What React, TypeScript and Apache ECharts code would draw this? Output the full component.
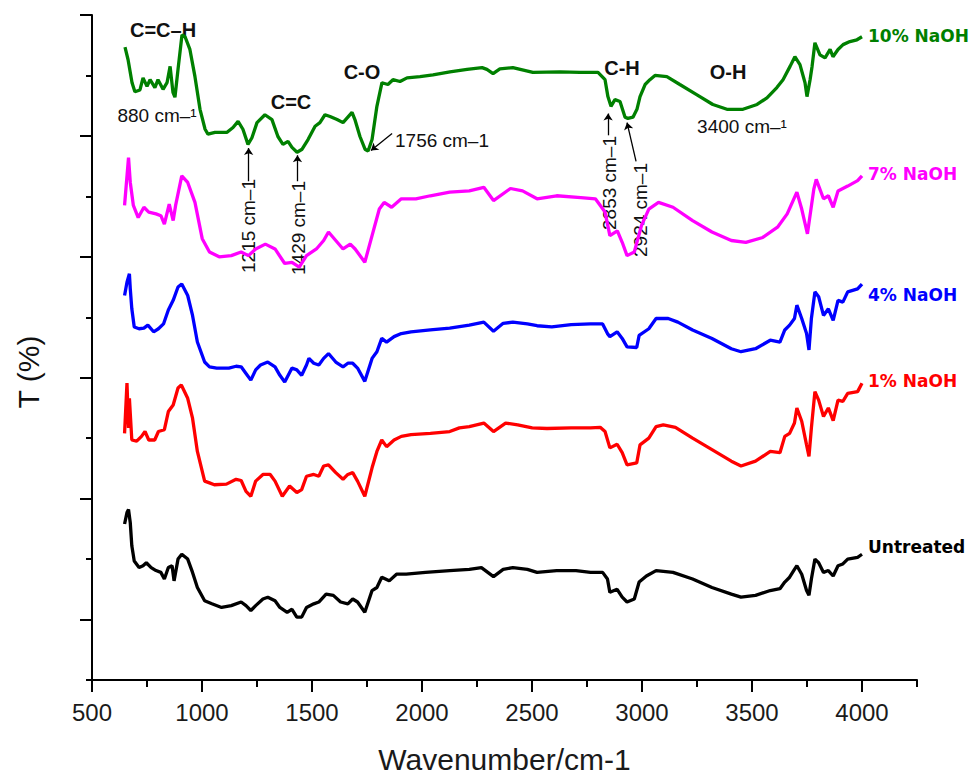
import React, { useEffect, useRef } from "react";
import * as echarts from "echarts";

// ---- data (wavenumber cm-1, transmittance in arbitrary offset units) ----
const wn10 = [650,664,682,695,718,732,750,764,786,800,823,841,855,868,877,891,909,923,945,968,991,1014,1027,1059,1114,1141,1164,1186,1209,1227,1250,1286,1318,1345,1368,1391,1409,1432,1455,1482,1514,1536,1559,1582,1614,1641,1682,1695,1718,1741,1755,1773,1795,1818,1845,1868,1900,1932,1991,2050,2127,2205,2273,2295,2323,2354,2413,2504,2627,2718,2800,2832,2845,2859,2877,2900,2923,2936,2959,2977,2991,3014,3036,3059,3113,3172,3250,3322,3386,3459,3523,3568,3613,3641,3673,3695,3718,3741,3750,3764,3773,3786,3809,3832,3855,3868,3891,3914,3945,3977,4000];
const t10 = [104.7,102.6,98.8,97.3,97.6,99.6,98.2,99.3,98.0,99.3,97.7,98.8,101.5,97.2,96.4,101.0,106.7,106.4,104.3,99.8,94.4,91.1,90.3,90.6,90.6,91.4,92.4,91.1,88.6,89.7,92.2,93.5,92.7,89.9,88.6,89.1,88.1,87.3,87.8,89.4,91.6,92.2,93.5,93.2,92.7,92.2,93.9,92.7,89.9,87.8,87.5,89.4,94.9,98.8,98.5,99.3,99.0,99.6,99.8,100.1,100.6,101.0,101.3,101.0,100.3,101.1,101.3,100.5,100.6,100.5,100.5,99.3,96.5,94.9,96.0,95.7,93.1,92.9,93.1,94.4,96.5,98.5,99.3,100.0,99.8,98.5,96.8,95.2,94.4,94.4,95.2,96.3,98.0,99.3,101.5,103.1,101.8,98.8,96.5,99.3,101.5,105.4,103.4,102.9,104.3,103.1,104.3,105.1,105.6,105.9,106.4];

const wn7 = [648,666,674,688,710,736,758,791,813,829,851,869,880,908,935,968,1001,1034,1078,1133,1178,1211,1244,1288,1332,1376,1409,1442,1475,1520,1553,1575,1608,1641,1674,1696,1740,1773,1806,1828,1862,1906,1972,2038,2126,2215,2281,2325,2402,2457,2523,2612,2722,2788,2832,2854,2888,2910,2932,2965,2998,3031,3075,3141,3230,3318,3406,3472,3549,3616,3660,3704,3726,3752,3781,3792,3825,3847,3869,3891,3935,3980,4000];
const t7 = [78.5,86.4,82.3,78.5,76.5,78.2,77.4,77.1,76.8,75.4,78.7,76.0,78.5,83.4,82.3,79.0,73.0,70.8,70.0,70.2,70.8,70.2,71.3,72.1,71.3,68.9,69.1,68.3,70.2,71.3,72.7,74.1,72.7,71.3,72.1,71.3,69.1,73.5,77.9,79.0,78.2,79.6,79.6,80.1,80.7,80.9,81.5,79.3,81.3,80.9,79.6,80.1,79.8,79.6,77.4,73.5,74.3,72.4,70.2,70.8,75.2,77.9,79.0,78.2,76.0,74.1,72.7,72.4,73.2,74.9,77.1,80.7,77.9,73.8,81.2,82.8,79.6,80.1,78.2,80.9,81.7,82.6,83.4];

const wn4 = [648,659,670,674,681,692,714,736,754,780,802,825,847,869,891,908,935,957,979,1012,1034,1067,1122,1155,1178,1200,1222,1244,1266,1299,1332,1354,1376,1409,1431,1453,1475,1486,1508,1531,1553,1575,1608,1641,1663,1685,1707,1740,1773,1795,1817,1839,1873,1906,1950,2038,2126,2215,2281,2325,2369,2413,2479,2523,2590,2678,2766,2821,2843,2854,2887,2910,2932,2976,2987,3031,3064,3119,3163,3230,3318,3406,3450,3516,3583,3627,3649,3671,3693,3704,3726,3748,3759,3770,3786,3803,3825,3847,3869,3891,3913,3935,3980,4000];
const t4 = [63.6,65.8,67.2,64.7,61.4,58.4,58.1,58.2,58.7,57.6,58.1,58.9,61.2,62.8,65.0,65.5,63.6,60.3,55.9,52.6,51.8,51.6,51.6,51.9,51.8,50.7,49.6,51.3,52.1,52.6,51.8,50.4,49.3,51.6,51.3,50.4,52.1,53.2,52.4,52.1,53.2,54.0,52.6,51.8,52.4,52.4,51.6,49.4,53.2,54.3,56.5,55.9,56.8,57.3,57.6,57.9,58.2,58.7,59.2,57.7,59.0,59.2,58.9,58.6,58.4,58.8,58.9,58.9,57.3,56.8,57.6,56.5,55.1,55.0,57.0,58.1,59.8,59.8,59.2,57.9,56.5,54.8,54.3,54.8,56.2,55.9,57.9,58.7,59.8,62.0,59.8,57.3,54.6,59.8,64.2,63.4,60.3,61.4,59.5,62.8,62.5,64.2,64.7,65.5];

const wn1 = [648,659,666,670,681,703,725,741,758,785,802,829,847,869,891,906,935,957,979,1012,1034,1056,1111,1155,1178,1200,1222,1244,1277,1310,1332,1365,1398,1431,1453,1475,1508,1531,1553,1575,1608,1641,1663,1685,1707,1740,1773,1795,1817,1839,1873,1906,1950,2038,2126,2170,2215,2281,2325,2380,2435,2501,2568,2678,2766,2810,2832,2854,2887,2910,2932,2976,2991,3031,3064,3097,3152,3230,3318,3406,3450,3516,3583,3627,3649,3671,3693,3704,3726,3748,3759,3770,3786,3803,3825,3847,3869,3891,3913,3935,3980,4000];
const t1 = [40.8,49.1,41.7,46.6,39.7,39.5,40.3,41.1,39.7,39.7,41.1,41.4,44.4,45.5,48.3,48.8,46.6,43.3,37.8,32.9,32.6,32.3,32.4,33.2,33.0,31.2,30.4,32.9,34.0,34.0,32.9,30.4,32.1,31.0,31.5,33.7,34.0,33.7,35.4,35.6,34.3,33.2,34.0,34.3,32.9,30.4,35.1,37.8,39.7,38.6,39.7,40.3,40.6,40.8,41.1,41.7,41.9,42.5,41.1,42.5,42.2,41.7,41.6,41.7,41.7,41.8,41.1,38.4,39.0,37.6,35.6,35.9,38.9,40.0,41.9,42.2,41.8,40.0,38.1,36.2,35.4,36.2,37.8,37.6,40.3,40.8,42.5,45.0,42.8,38.9,37.0,41.7,47.7,46.3,43.6,45.0,42.9,46.3,46.1,47.4,47.7,49.1];

const wn0 = [648,659,666,674,681,692,714,732,747,769,791,813,829,847,864,873,891,908,935,957,979,1012,1045,1089,1133,1178,1200,1222,1244,1277,1299,1332,1354,1387,1409,1431,1453,1475,1508,1531,1564,1597,1630,1663,1685,1707,1740,1773,1795,1817,1851,1884,1928,2016,2126,2215,2270,2325,2369,2413,2479,2523,2612,2700,2766,2821,2843,2854,2887,2910,2932,2965,2987,3020,3064,3141,3230,3318,3406,3450,3516,3583,3627,3649,3671,3693,3704,3726,3748,3759,3770,3786,3803,3825,3847,3869,3891,3913,3935,3980,4000];
const t0 = [25.8,27.7,28.2,26.0,22.2,19.7,18.6,18.9,19.4,18.6,18.1,17.8,16.7,18.6,18.9,16.4,20.0,20.8,20.0,17.8,15.3,13.1,12.6,12.0,12.3,12.9,12.3,11.5,12.3,13.4,13.7,13.1,12.0,11.2,11.7,10.4,10.4,12.0,12.6,12.9,14.2,14.0,12.9,12.6,13.4,12.9,11.2,14.8,15.3,17.0,16.4,17.5,17.5,17.8,18.1,18.3,18.6,17.1,18.3,18.6,18.3,17.8,18.1,18.1,17.8,17.8,16.7,14.5,15.0,13.7,12.9,13.4,16.2,17.2,18.1,17.8,16.7,15.3,14.2,13.7,14.0,14.8,15.1,16.2,17.0,18.3,18.9,17.5,14.8,14.0,16.7,20.0,19.4,17.8,18.1,17.2,18.9,19.2,20.0,20.3,20.8];

const seriesNames = ["10% NaOH", "7% NaOH", "4% NaOH", "1% NaOH", "Untreated"];
const xMajorTicks = [500, 1000, 1500, 2000, 2500, 3000, 3500, 4000];
const xMinorTicks = [750, 1250, 1750, 2250, 2750, 3250, 3750, 4250];
const yMajorTicks = [10, 30, 50, 70, 90, 110];
const yMinorTicks = [0, 20, 40, 60, 80, 100];

// arrows: [from, to] in data coordinates
const arrows = [
  [[1212, 82.5], [1212, 88.0]],
  [[1434, 82.5], [1434, 86.8]],
  [[1864, 90.4], [1768, 87.6]],
  [[2846, 90.1], [2846, 93.7]],
  [[2973, 85.8], [2932, 92.2]],
];

const SANS = "'Liberation Sans', Arial, sans-serif";

function zip(w: number[], t: number[]) {
  return w.map((x, i) => [x, t[i]]);
}

export default function App() {
  const ref = useRef<HTMLDivElement>(null);
  useEffect(() => {
    document.body.style.margin = "0";
    if (!ref.current) return;
    const chart = echarts.init(ref.current, undefined, { renderer: "svg" });
    const colors = ["#008000", "#ff00ff", "#0000ff", "#ff0000", "#000000"];
    const datas = [zip(wn10, t10), zip(wn7, t7), zip(wn4, t4), zip(wn1, t1), zip(wn0, t0)];
    const offsets = [[0, -1], [0, -2], [0, 11], [0, -2], [0, -7]];
    const axisLine = { show: true, lineStyle: { color: "#000", width: 2 } };
    const tickStyle = { color: "#000", width: 2 };

    const series: any[] = datas.map((d, i) => ({
      type: "line",
      name: seriesNames[i],
      data: d,
      showSymbol: false,
      symbol: "none",
      lineStyle: { color: colors[i], width: 3.3 },
      itemStyle: { color: colors[i] },
      clip: false,
      endLabel: {
        show: true,
        formatter: seriesNames[i],
        color: colors[i],
        fontSize: 17,
        fontWeight: "bold",
        fontFamily: "'DejaVu Sans', sans-serif",
        distance: 6,
        offset: offsets[i],
      },
      ...(i === 0
        ? {
            markLine: {
              silent: true,
              symbol: ["none", "arrow"],
              symbolSize: 7,
              label: { show: false },
              lineStyle: { color: "#000", width: 1.3, type: "solid" },
              data: arrows.map((a) => [{ coord: a[0] }, { coord: a[1] }]),
            },
          }
        : {}),
    }));

    const txt = (text: string, x: number, y: number, bold: boolean, size: number, extra: any = {}) => ({
      type: "text",
      x,
      y,
      rotation: extra.rotation || 0,
      style: {
        text,
        fontSize: size,
        fontWeight: bold ? "bold" : "normal",
        fontFamily: SANS,
        fill: "#111",
        align: extra.align || "center",
        verticalAlign: "middle",
      },
    });

    const option: any = {
      animation: false,
      grid: { left: 92, right: 55, top: 15, bottom: 96 },
      xAxis: [
        {
          type: "value",
          min: 500,
          max: 4250,
          interval: 500,
          axisLine,
          axisTick: { show: true, length: 12, lineStyle: tickStyle, customValues: xMajorTicks },
          axisLabel: {
            customValues: xMajorTicks,
            formatter: (v: number) => String(v),
            fontSize: 24,
            color: "#1a1a1a",
            fontFamily: SANS,
            margin: 20,
          },
          splitLine: { show: false },
          name: "Wavenumber/cm-1",
          nameLocation: "middle",
          nameGap: 64,
          nameTextStyle: { fontSize: 30, color: "#1a1a1a", fontFamily: SANS },
        },
        {
          type: "value",
          min: 500,
          max: 4250,
          position: "bottom",
          axisLine: { show: false },
          axisTick: { show: true, length: 7, lineStyle: tickStyle, customValues: xMinorTicks },
          axisLabel: { show: false },
          splitLine: { show: false },
        },
      ],
      yAxis: [
        {
          type: "value",
          min: 0,
          max: 110,
          axisLine,
          axisTick: { show: true, length: 12, lineStyle: tickStyle, customValues: yMajorTicks },
          axisLabel: { show: false },
          splitLine: { show: false },
        },
        {
          type: "value",
          min: 0,
          max: 110,
          position: "left",
          axisLine: { show: false },
          axisTick: { show: true, length: 6, lineStyle: tickStyle, customValues: yMinorTicks },
          axisLabel: { show: false },
          splitLine: { show: false },
        },
      ],
      series,
      graphic: [
        txt("T (%)", 28, 372, false, 30, { rotation: Math.PI / 2 }),
        txt("C=C\u2013H", 163, 30, true, 20),
        txt("880 cm\u2013\u00b9", 157, 115, false, 19),
        txt("C=C", 291, 102, true, 20),
        txt("C-O", 362, 72, true, 20),
        txt("1756 cm\u20131", 395, 140, false, 19, { align: "left" }),
        txt("C-H", 622, 68, true, 20),
        txt("O-H", 728, 72, true, 20),
        txt("3400 cm\u2013\u00b9", 742, 126, false, 19),
        txt("1215 cm\u20131", 248, 226, false, 19, { rotation: Math.PI / 2 }),
        txt("1429 cm\u20131", 298, 228, false, 19, { rotation: Math.PI / 2 }),
        txt("2853 cm\u20131", 609, 183, false, 19, { rotation: Math.PI / 2 }),
        txt("2924 cm\u20131", 640, 210, false, 19, { rotation: Math.PI / 2 }),
      ],
    };
    chart.setOption(option);
    return () => chart.dispose();
  }, []);
  return <div ref={ref} style={{ width: 972, height: 779 }} />;
}
